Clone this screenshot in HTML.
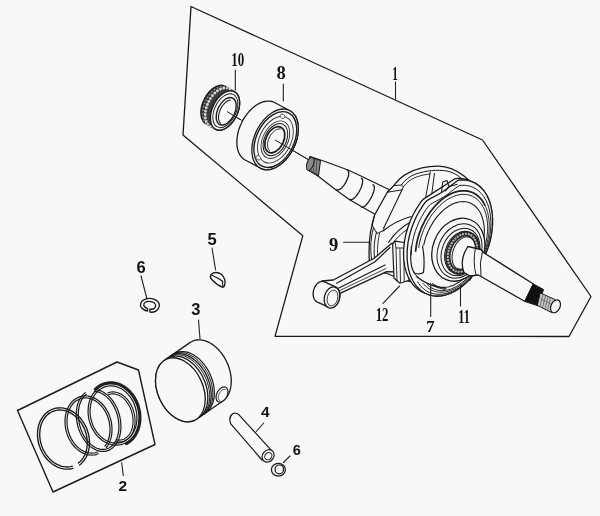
<!DOCTYPE html>
<html><head><meta charset="utf-8"><style>
html,body{margin:0;padding:0;background:#f8f8f8;}
svg{display:block;filter:grayscale(1) blur(0.3px);}
.n{font-family:"Liberation Serif",serif;font-weight:bold;fill:#111;}
.s{font-family:"Liberation Sans",sans-serif;font-weight:bold;fill:#111;}
</style></head><body>
<svg width="600" height="516" viewBox="0 0 600 516">
<rect width="600" height="516" fill="#f8f8f8"/>
<path d="M191,6.5 L482.5,140 L591,296.5 L569,336.5 L275,336.3 L302.8,235.8 L183,135 Z" fill="none" stroke="#1a1a1a" stroke-width="1.3" stroke-linejoin="round" stroke-linecap="round" />
<path d="M17.5,410.5 L117,362 L138.5,370 L155,444.5 L53,492 Z" fill="none" stroke="#1a1a1a" stroke-width="1.4" stroke-linejoin="round" stroke-linecap="round" />
<line x1="226.0" y1="111.0" x2="309.0" y2="160.0" stroke="#222" stroke-width="1.0"/>
<path d="M200.9,112.6 L200.9,111.6 L201.0,110.6 L201.1,109.7 L201.2,108.6 L201.4,107.6 L201.6,106.6 L201.9,105.6 L202.2,104.5 L202.5,103.5 L202.9,102.5 L203.3,101.5 L203.7,100.5 L204.2,99.5 L204.7,98.5 L205.2,97.5 L205.8,96.6 L206.3,95.7 L206.9,94.8 L207.6,93.9 L208.2,93.1 L208.9,92.3 L209.6,91.5 L210.3,90.8 L211.0,90.1 L211.7,89.4 L212.5,88.8 L213.2,88.3 L214.0,87.7 L214.8,87.3 L215.5,86.9 L216.3,86.5 L217.1,86.2 L217.8,85.9 L218.6,85.7 L219.3,85.5 L220.0,85.4 L220.8,85.3 L221.5,85.3 L222.2,85.4 L222.8,85.5 L223.5,85.7 L224.1,85.9 L224.7,86.1 L225.3,86.4 L234.8,91.9 L235.3,92.3 L235.9,92.7 L236.4,93.2 L236.8,93.7 L237.3,94.3 L237.7,94.9 L238.0,95.5 L238.3,96.2 L238.6,96.9 L238.9,97.7 L239.1,98.5 L239.3,99.3 L239.4,100.2 L239.5,101.1 L239.6,102.0 L239.6,102.9 L239.6,103.9 L239.5,104.9 L239.4,105.8 L239.3,106.9 L239.1,107.9 L238.9,108.9 L238.6,109.9 L238.3,111.0 L238.0,112.0 L237.6,113.0 L237.2,114.0 L236.8,115.0 L236.3,116.0 L235.8,117.0 L235.3,118.0 L234.7,118.9 L234.2,119.8 L233.6,120.7 L232.9,121.6 L232.3,122.4 L231.6,123.2 L230.9,124.0 L230.2,124.7 L229.5,125.4 L228.8,126.1 L228.0,126.7 L227.3,127.2 L226.5,127.8 L225.7,128.2 L225.0,128.6 L224.2,129.0 L223.4,129.3 L222.7,129.6 L221.9,129.8 L221.2,130.0 L220.5,130.1 L219.7,130.2 L219.0,130.2 L218.3,130.1 L217.7,130.0 L217.0,129.8 L216.4,129.6 L215.8,129.4 L215.2,129.1 L205.7,123.6 L205.2,123.2 L204.6,122.8 L204.1,122.3 L203.7,121.8 L203.2,121.2 L202.8,120.6 L202.5,120.0 L202.2,119.3 L201.9,118.6 L201.6,117.8 L201.4,117.0 L201.2,116.2 L201.1,115.3 L201.0,114.4 L200.9,113.5Z" fill="#3c3c3c" stroke="#1a1a1a" stroke-width="1.4" stroke-linejoin="round"/>
<ellipse cx="220.0" cy="107.6" rx="12.8" ry="21.2" transform="rotate(26 220.0 107.6)" fill="none" stroke="#d8d8d8" stroke-width="2.9" stroke-dasharray="0.01 3.4" stroke-linecap="round"/>
<ellipse cx="217.0" cy="105.9" rx="12.4" ry="20.8" transform="rotate(26 217.0 105.9)" fill="none" stroke="#9a9a9a" stroke-width="1.6" stroke-dasharray="0.01 3.4" stroke-dashoffset="1.7" stroke-linecap="round"/>
<ellipse cx="225.0" cy="110.5" rx="12.6" ry="21.0" transform="rotate(26 225.0 110.5)" fill="#f8f8f8" stroke="#1a1a1a" stroke-width="1.4" />
<ellipse cx="225.3" cy="110.7" rx="10.7" ry="18.1" transform="rotate(26 225.3 110.7)" fill="none" stroke="#1a1a1a" stroke-width="0.9" />
<ellipse cx="226.2" cy="111.3" rx="8.6" ry="14.7" transform="rotate(26 226.2 111.3)" fill="#f8f8f8" stroke="#1a1a1a" stroke-width="1.4" />
<path d="M220.4,123.1 L220.1,122.7 L219.8,122.3 L219.5,121.8 L219.3,121.4 L219.0,120.8 L218.9,120.2 L218.7,119.6 L218.6,119.0 L218.5,118.3 L218.5,117.6 L218.5,116.9 L218.5,116.2 L218.6,115.4 L218.7,114.7 L218.9,113.9 L219.1,113.1 L219.3,112.3 L219.6,111.5 L219.8,110.7 L220.2,109.9 L220.5,109.2 L220.9,108.4 L221.3,107.6 L221.7,106.9 L222.2,106.2 L222.7,105.5 L223.1,104.9 L223.7,104.3 L224.2,103.7 L224.7,103.1 L225.3,102.6 L225.8,102.1 L226.4,101.7 L227.0,101.3 L227.5,101.0 L228.1,100.7 L228.7,100.4 L229.2,100.2 L229.8,100.1 L230.3,100.0" fill="none" stroke="#1a1a1a" stroke-width="1.1" stroke-linecap="round" />
<line x1="227.0" y1="111.5" x2="240.0" y2="119.5" stroke="#222" stroke-width="1.0"/>
<path d="M236.9,142.6 L236.9,141.1 L237.0,139.6 L237.1,138.0 L237.3,136.5 L237.6,134.9 L237.9,133.3 L238.3,131.7 L238.7,130.1 L239.2,128.5 L239.8,127.0 L240.4,125.4 L241.1,123.9 L241.8,122.3 L242.6,120.8 L243.4,119.4 L244.3,117.9 L245.2,116.5 L246.2,115.2 L247.2,113.8 L248.2,112.6 L249.2,111.3 L250.3,110.2 L251.5,109.1 L252.6,108.0 L253.8,107.1 L254.9,106.1 L256.1,105.3 L257.3,104.5 L258.5,103.8 L259.8,103.2 L261.0,102.7 L262.2,102.2 L263.4,101.8 L264.6,101.5 L265.8,101.3 L267.0,101.1 L268.1,101.1 L269.2,101.1 L270.3,101.2 L271.4,101.4 L272.5,101.7 L273.5,102.0 L274.5,102.5 L289.5,110.5 L290.4,111.0 L291.3,111.6 L292.1,112.2 L292.9,113.0 L293.7,113.8 L294.4,114.7 L295.1,115.6 L295.7,116.7 L296.2,117.7 L296.7,118.9 L297.1,120.1 L297.5,121.3 L297.8,122.6 L298.0,124.0 L298.2,125.4 L298.3,126.8 L298.3,128.2 L298.3,129.7 L298.2,131.2 L298.1,132.8 L297.9,134.3 L297.6,135.9 L297.3,137.5 L296.9,139.1 L296.5,140.7 L296.0,142.3 L295.4,143.8 L294.8,145.4 L294.1,146.9 L293.4,148.5 L292.6,150.0 L291.8,151.4 L290.9,152.9 L290.0,154.3 L289.0,155.6 L288.0,157.0 L287.0,158.2 L286.0,159.5 L284.9,160.6 L283.7,161.7 L282.6,162.8 L281.4,163.7 L280.3,164.7 L279.1,165.5 L277.9,166.3 L276.7,167.0 L275.4,167.6 L274.2,168.1 L273.0,168.6 L271.8,169.0 L270.6,169.3 L269.4,169.5 L268.2,169.7 L267.1,169.7 L266.0,169.7 L264.9,169.6 L263.8,169.4 L262.7,169.1 L261.7,168.8 L260.7,168.3 L245.7,160.3 L244.8,159.8 L243.9,159.2 L243.1,158.6 L242.3,157.8 L241.5,157.0 L240.8,156.1 L240.1,155.2 L239.5,154.1 L239.0,153.1 L238.5,151.9 L238.1,150.7 L237.7,149.5 L237.4,148.2 L237.2,146.8 L237.0,145.4 L236.9,144.0Z" fill="#f8f8f8" stroke="#1a1a1a" stroke-width="1.3" stroke-linejoin="round"/>
<ellipse cx="275.1" cy="139.4" rx="20.4" ry="32.3" transform="rotate(26.4 275.1 139.4)" fill="#f8f8f8" stroke="#1a1a1a" stroke-width="1.3" />
<ellipse cx="275.3" cy="139.6" rx="18.8" ry="29.7" transform="rotate(26.4 275.3 139.6)" fill="none" stroke="#1a1a1a" stroke-width="1.4" />
<ellipse cx="275.4" cy="139.7" rx="15.7" ry="24.9" transform="rotate(26.4 275.4 139.7)" fill="none" stroke="#333" stroke-width="0.9" />
<ellipse cx="282.5" cy="116.3" rx="2.6" ry="2.0" transform="rotate(30 282.5 116.3)" fill="#f8f8f8" stroke="#444" stroke-width="0.8" />
<ellipse cx="258.3" cy="157.8" rx="2.6" ry="2.0" transform="rotate(30 258.3 157.8)" fill="#f8f8f8" stroke="#444" stroke-width="0.8" />
<ellipse cx="275.4" cy="139.7" rx="12.6" ry="20.0" transform="rotate(26.4 275.4 139.7)" fill="none" stroke="#333" stroke-width="0.9" />
<ellipse cx="275.4" cy="139.7" rx="10.8" ry="17.1" transform="rotate(26.4 275.4 139.7)" fill="#f8f8f8" stroke="#1a1a1a" stroke-width="1.0" />
<ellipse cx="274.8" cy="139.7" rx="8.8" ry="13.9" transform="rotate(26.4 274.8 139.7)" fill="#f8f8f8" stroke="#1a1a1a" stroke-width="1.7" />
<path d="M269.6,150.7 L269.2,150.3 L268.9,149.8 L268.6,149.4 L268.3,148.8 L268.1,148.3 L267.9,147.7 L267.7,147.1 L267.6,146.4 L267.6,145.7 L267.6,145.0 L267.6,144.2 L267.6,143.5 L267.7,142.7 L267.9,141.9 L268.1,141.1 L268.3,140.3 L268.5,139.5 L268.8,138.7 L269.2,137.9 L269.5,137.1 L269.9,136.4 L270.3,135.6 L270.8,134.9 L271.3,134.2 L271.8,133.6 L272.3,132.9 L272.9,132.4 L273.4,131.8 L274.0,131.3 L274.6,130.8 L275.2,130.4 L275.8,130.0 L276.4,129.7 L276.9,129.5 L277.5,129.2 L278.1,129.1 L278.7,129.0 L279.3,128.9 L279.8,128.9 L280.3,129.0" fill="none" stroke="#1a1a1a" stroke-width="1.0" stroke-linecap="round" />
<line x1="275.0" y1="140.0" x2="309.0" y2="160.0" stroke="#222" stroke-width="1.0"/>
<path d="M310,156.5 L325,161.5 L348,170 L363,177 L392,191 L378,216 L350,200 L336,190 L318,176 L309,170.5 Z" fill="#f8f8f8" stroke="#1a1a1a" stroke-width="1.2" stroke-linejoin="round" stroke-linecap="round" />
<path d="M309.5,157 L320.5,160.5 L318.5,175.5 L309,170.5 Z" fill="#8a8a8a" stroke="#1a1a1a" stroke-width="1.1" stroke-linejoin="round" stroke-linecap="round" />
<path d="M312,158 L310.8,171.5 M314.5,158.8 L313.2,172.8 M317,159.6 L315.8,174" fill="none" stroke="#444" stroke-width="0.8" stroke-linejoin="round" stroke-linecap="round" />
<ellipse cx="310.2" cy="163.8" rx="3.2" ry="6.8" transform="rotate(20 310.2 163.8)" fill="#8a8a8a" stroke="#1a1a1a" stroke-width="1.1" />
<path d="M347.3,170.2 L347.6,170.3 L347.9,170.5 L348.2,170.7 L348.4,171.0 L348.5,171.4 L348.6,171.8 L348.7,172.3 L348.8,172.9 L348.7,173.5 L348.7,174.1 L348.6,174.8 L348.5,175.5 L348.3,176.2 L348.1,177.0 L347.8,177.8 L347.5,178.6 L347.2,179.4 L346.8,180.2 L346.4,181.1 L346.0,181.9 L345.6,182.7 L345.1,183.5 L344.7,184.2 L344.2,184.9 L343.7,185.6 L343.1,186.3 L342.6,186.9 L342.1,187.5 L341.6,188.0 L341.1,188.4 L340.6,188.8 L340.1,189.2 L339.6,189.4 L339.2,189.7 L338.7,189.8 L338.3,189.9 L338.0,189.9 L337.6,189.8 L337.3,189.7 L337.0,189.5" fill="none" stroke="#1a1a1a" stroke-width="1.3" stroke-linecap="round" />
<path d="M361.3,178.3 L361.6,178.4 L361.9,178.6 L362.1,178.8 L362.3,179.2 L362.5,179.6 L362.6,180.0 L362.6,180.6 L362.6,181.1 L362.6,181.8 L362.5,182.5 L362.4,183.2 L362.3,184.0 L362.0,184.8 L361.8,185.6 L361.5,186.5 L361.2,187.3 L360.8,188.2 L360.4,189.1 L360.0,190.0 L359.5,190.9 L359.1,191.7 L358.6,192.6 L358.0,193.4 L357.5,194.2 L357.0,195.0 L356.4,195.7 L355.9,196.4 L355.3,197.0 L354.8,197.6 L354.2,198.1 L353.7,198.5 L353.2,198.9 L352.7,199.2 L352.2,199.5 L351.8,199.6 L351.4,199.7 L351.0,199.8 L350.7,199.7 L350.4,199.6 L350.1,199.4" fill="none" stroke="#1a1a1a" stroke-width="1.3" stroke-linecap="round" />
<path d="M373.0,184.8 L373.4,185.0 L373.6,185.1 L373.9,185.4 L374.0,185.7 L374.2,186.2 L374.3,186.6 L374.3,187.2 L374.3,187.8 L374.3,188.4 L374.2,189.1 L374.1,189.9 L373.9,190.7 L373.7,191.5 L373.4,192.4 L373.1,193.3 L372.7,194.2 L372.4,195.1 L372.0,196.0 L371.5,197.0 L371.0,197.9 L370.5,198.8 L370.0,199.7 L369.5,200.5 L368.9,201.4 L368.4,202.2 L367.8,202.9 L367.2,203.6 L366.7,204.3 L366.1,204.9 L365.6,205.4 L365.0,205.9 L364.5,206.3 L364.0,206.6 L363.5,206.9 L363.1,207.1 L362.7,207.2 L362.3,207.2 L361.9,207.2 L361.6,207.0 L361.3,206.8" fill="none" stroke="#1a1a1a" stroke-width="1.3" stroke-linecap="round" />
<path d="M371,272 C368.5,262 368.5,245 370.5,232 L374.6,215 L387.4,192 L393.8,185.6 C398,180 403,175.5 407.6,173.3 C417,168.5 428,166 438.7,166.2 C447,166.3 456,170 464,176 C472,182 478,190 482,200 L485,235 L470,280 L425,285 L400,279 L386,273 L372,273 Z" fill="#f8f8f8" stroke="#1a1a1a" stroke-width="1.3" stroke-linejoin="round" stroke-linecap="round" />
<path d="M401.2,185 C405,180 410,176 416,173.9 C426,170.5 437,169.5 447,171 C452,172 457,174.5 461,178" fill="none" stroke="#1a1a1a" stroke-width="1.0" stroke-linejoin="round" stroke-linecap="round" />
<path d="M403.4,186.7 C407,182 411,179 416.5,177 C422,175 426,174.5 430,174" fill="none" stroke="#1a1a1a" stroke-width="0.9" stroke-linejoin="round" stroke-linecap="round" />
<path d="M402.2,189.5 L383.6,228.2" fill="none" stroke="#1a1a1a" stroke-width="1.1" stroke-linejoin="round" stroke-linecap="round" />
<path d="M387.4,192 L393.8,185.6 L401.2,185 L403.4,186.7 L402.2,189.5 Z" fill="none" stroke="#1a1a1a" stroke-width="1.0" stroke-linejoin="round" stroke-linecap="round" />
<path d="M374.6,215 L371.8,224.7 L377,233.5 L384.4,230 L383.6,228.2" fill="none" stroke="#1a1a1a" stroke-width="1.0" stroke-linejoin="round" stroke-linecap="round" />
<path d="M373.5,228 C370,240 370,252 372.5,265" fill="none" stroke="#1a1a1a" stroke-width="1.0" stroke-linejoin="round" stroke-linecap="round" />
<path d="M376.5,232 C373.5,243 373.5,254 375.5,266" fill="none" stroke="#1a1a1a" stroke-width="1.0" stroke-linejoin="round" stroke-linecap="round" />
<path d="M379.5,233.5 C377,244 377,255 378.5,266" fill="none" stroke="#1a1a1a" stroke-width="0.9" stroke-linejoin="round" stroke-linecap="round" />
<path d="M430.3,171.9 L424.7,202.8 M434.5,173.3 L431.7,194.4" fill="none" stroke="#1a1a1a" stroke-width="1.0" stroke-linejoin="round" stroke-linecap="round" />
<path d="M383,231 C391,224.5 400,219.5 411,216.5" fill="none" stroke="#1a1a1a" stroke-width="1.1" stroke-linejoin="round" stroke-linecap="round" />
<path d="M388.5,242.5 C394,234 401,227 411.5,221.5" fill="none" stroke="#1a1a1a" stroke-width="1.1" stroke-linejoin="round" stroke-linecap="round" />
<path d="M391.5,245 C397,237.5 403,231.5 412,226.5" fill="none" stroke="#1a1a1a" stroke-width="1.0" stroke-linejoin="round" stroke-linecap="round" />
<path d="M322,281 L333.3,280 L374.2,258.3 L391.7,243.3 L398,244 L400,250 L399,272 L386.7,271.7 L340,293.3 L336,305 Z" fill="#f8f8f8" stroke="#1a1a1a" stroke-width="1.3" stroke-linejoin="round" stroke-linecap="round" />
<path d="M336.7,283.3 L375,261.7 L390,247.5 M338.3,288.3 L385,265" fill="none" stroke="#1a1a1a" stroke-width="1.2" stroke-linejoin="round" stroke-linecap="round" />
<path d="M339.2,290.8 L386,268.5" fill="none" stroke="#333" stroke-width="0.9" stroke-linejoin="round" stroke-linecap="round" />
<path d="M392.6,244 L395,241.2 L407.6,243 L408.6,248 L409,280.3 L400,283.2 L394,278 Z" fill="#f8f8f8" stroke="#1a1a1a" stroke-width="1.2" stroke-linejoin="round" stroke-linecap="round" />
<path d="M395,241.2 L396,248 L407.6,248 M396,248 L397,281 M399.9,249 L400.5,282 M403.8,249 L404.2,281.5" fill="none" stroke="#1a1a1a" stroke-width="0.9" stroke-linejoin="round" stroke-linecap="round" />
<path d="M313.1,293.9 L313.2,293.4 L313.2,292.8 L313.2,292.2 L313.3,291.7 L313.4,291.1 L313.5,290.6 L313.7,290.0 L313.8,289.5 L314.0,289.0 L314.2,288.4 L314.4,287.9 L314.6,287.4 L314.9,286.9 L315.1,286.4 L315.4,286.0 L315.7,285.5 L316.0,285.1 L316.4,284.7 L316.7,284.3 L317.1,283.9 L317.4,283.6 L317.8,283.2 L318.2,282.9 L318.6,282.7 L318.9,282.4 L319.3,282.2 L319.8,282.0 L320.2,281.8 L320.6,281.7 L321.0,281.6 L321.4,281.5 L321.8,281.4 L322.2,281.4 L322.6,281.4 L323.0,281.4 L323.4,281.5 L323.8,281.6 L324.2,281.7 L324.5,281.8 L335.5,286.8 L335.9,287.0 L336.3,287.2 L336.6,287.4 L336.9,287.7 L337.2,288.0 L337.5,288.3 L337.8,288.6 L338.1,288.9 L338.3,289.3 L338.6,289.7 L338.8,290.1 L339.0,290.6 L339.2,291.0 L339.3,291.5 L339.5,292.0 L339.6,292.5 L339.7,293.0 L339.8,293.5 L339.8,294.0 L339.8,294.6 L339.9,295.1 L339.8,295.6 L339.8,296.2 L339.8,296.8 L339.7,297.3 L339.6,297.9 L339.5,298.4 L339.3,299.0 L339.2,299.5 L339.0,300.0 L338.8,300.6 L338.6,301.1 L338.4,301.6 L338.1,302.1 L337.9,302.6 L337.6,303.0 L337.3,303.5 L337.0,303.9 L336.6,304.3 L336.3,304.7 L335.9,305.1 L335.6,305.4 L335.2,305.8 L334.8,306.1 L334.4,306.3 L334.1,306.6 L333.7,306.8 L333.2,307.0 L332.8,307.2 L332.4,307.3 L332.0,307.4 L331.6,307.5 L331.2,307.6 L330.8,307.6 L330.4,307.6 L330.0,307.6 L329.6,307.5 L329.2,307.4 L328.8,307.3 L328.5,307.2 L317.5,302.2 L317.1,302.0 L316.7,301.8 L316.4,301.6 L316.1,301.3 L315.8,301.0 L315.5,300.7 L315.2,300.4 L314.9,300.1 L314.7,299.7 L314.4,299.3 L314.2,298.9 L314.0,298.4 L313.8,298.0 L313.7,297.5 L313.5,297.0 L313.4,296.5 L313.3,296.0 L313.2,295.5 L313.2,295.0 L313.2,294.4Z" fill="#f8f8f8" stroke="#1a1a1a" stroke-width="1.3" stroke-linejoin="round"/>
<ellipse cx="332.0" cy="297.5" rx="7.6" ry="10.8" transform="rotate(15 332.0 297.5)" fill="#f8f8f8" stroke="#1a1a1a" stroke-width="1.3" />
<ellipse cx="332.5" cy="298.0" rx="5.2" ry="8.0" transform="rotate(15 332.5 298.0)" fill="none" stroke="#1a1a1a" stroke-width="0.8" />
<path d="M403.6,254.0 L403.6,252.1 L403.6,250.1 L403.8,248.1 L403.9,246.1 L404.2,244.1 L404.4,242.1 L404.7,240.1 L405.1,238.1 L405.5,236.0 L406.0,234.0 L406.5,232.0 L407.1,230.0 L407.7,228.0 L408.4,226.0 L409.1,224.0 L409.9,222.0 L410.7,220.1 L411.5,218.1 L412.4,216.2 L413.3,214.3 L414.3,212.5 L415.3,210.6 L416.4,208.8 L417.5,207.1 L418.6,205.3 L419.7,203.7 L420.9,202.0 L422.1,200.4 L423.5,199.1 L454.9,178.7 L456.3,178.6 L457.8,178.5 L459.2,178.5 L460.6,178.5 L462.0,178.6 L463.4,178.8 L464.7,179.1 L466.1,179.4 L467.4,179.8 L468.7,180.3 L472.2,181.8 L473.4,182.3 L474.7,182.9 L475.9,183.6 L477.0,184.4 L478.2,185.2 L479.3,186.0 L480.3,187.0 L481.3,188.0 L482.3,189.0 L483.3,190.1 L484.2,191.3 L485.0,192.5 L485.9,193.8 L486.7,195.2 L487.4,196.6 L488.1,198.0 L488.7,199.5 L489.3,201.0 L489.9,202.6 L490.3,204.3 L490.8,205.9 L491.2,207.6 L491.5,209.4 L491.8,211.2 L492.1,213.0 L492.3,214.8 L492.4,216.7 L492.5,218.6 L492.5,220.5 L492.5,222.4 L492.5,224.4 L492.3,226.4 L492.2,228.4 L491.9,230.4 L491.7,232.4 L491.4,234.4 L491.0,236.4 L490.6,238.5 L490.1,240.5 L489.6,242.5 L489.0,244.5 L488.4,246.5 L487.7,248.5 L487.0,250.5 L486.2,252.5 L485.4,254.4 L484.6,256.4 L483.7,258.3 L482.8,260.2 L481.8,262.0 L480.8,263.9 L479.7,265.7 L478.6,267.4 L477.5,269.2 L476.4,270.8 L475.2,272.5 L474.0,274.1 L472.7,275.7 L471.5,277.2 L470.2,278.7 L468.8,280.1 L467.5,281.4 L466.1,282.8 L464.7,284.0 L463.3,285.2 L461.9,286.4 L460.5,287.5 L459.0,288.5 L457.5,289.5 L456.1,290.4 L454.6,291.2 L453.1,292.0 L451.6,292.7 L450.1,293.4 L448.6,293.9 L447.1,294.4 L445.7,294.9 L444.2,295.2 L442.7,295.5 L441.2,295.8 L439.8,295.9 L438.3,296.0 L436.9,296.0 L435.5,296.0 L434.1,295.9 L432.7,295.7 L431.4,295.4 L430.0,295.1 L428.7,294.7 L427.4,294.2 L423.9,292.7 L422.7,292.2 L421.4,291.6 L420.2,290.9 L419.1,290.1 L417.9,289.3 L416.8,288.5 L415.8,287.5 L414.8,286.5 L413.8,285.5 L412.8,284.4 L411.9,283.2 L411.1,282.0 L410.2,280.7 L409.4,279.3 L408.7,277.9 L408.0,276.5 L407.4,275.0 L406.8,273.5 L406.2,271.9 L405.8,270.2 L405.3,268.6 L404.9,266.9 L404.6,265.1 L404.3,263.3 L404.0,261.5 L403.8,259.7 L403.7,257.8 L403.6,255.9Z" fill="#f8f8f8" stroke="#1a1a1a" stroke-width="1.3" stroke-linejoin="round"/>
<path d="M486.2,252.5 L485.4,254.4 L484.6,256.4 L483.7,258.3 L482.8,260.2 L481.8,262.0 L480.8,263.9 L479.7,265.7 L478.6,267.4 L477.5,269.2 L476.4,270.8 L475.2,272.5 L474.0,274.1 L472.7,275.7 L471.5,277.2 L470.2,278.7 L468.8,280.1 L467.5,281.4 L466.1,282.8 L464.7,284.0 L463.3,285.2 L461.9,286.4 L460.5,287.5 L459.0,288.5 L457.5,289.5 L456.1,290.4 L454.6,291.2 L453.1,292.0 L451.6,292.7 L450.1,293.4 L448.6,293.9 L447.1,294.4 L445.7,294.9 L444.2,295.2 L442.7,295.5 L441.2,295.8 L439.8,295.9 L438.3,296.0 L436.9,296.0 L435.5,296.0 L434.1,295.9 L432.7,295.7 L431.4,295.4 L430.0,295.1 L428.7,294.7 L427.4,294.2 L426.2,293.7 L424.9,293.1 L423.7,292.4 L422.6,291.6 L421.4,290.8 L420.3,290.0 L419.3,289.0 L418.3,288.0 L417.3,287.0 L416.3,285.9 L415.4,284.7 L414.6,283.5 L413.7,282.2 L412.9,280.8 L412.2,279.4 L411.5,278.0 L410.9,276.5 L410.3,275.0 L409.7,273.4 L409.3,271.7 L408.8,270.1 L408.4,268.4 L408.1,266.6 L407.8,264.8 L407.5,263.0 L407.3,261.2 L407.2,259.3 L407.1,257.4 L407.1,255.5 L407.1,253.6 L407.1,251.6 L407.3,249.6 L407.4,247.6 L407.7,245.6 L407.9,243.6 L408.2,241.6 L408.6,239.6 L409.0,237.5 L409.5,235.5 L410.0,233.5 L410.6,231.5 L411.2,229.5 L411.9,227.5 L412.6,225.5 L413.4,223.5 L414.2,221.6 L415.0,219.6 L415.9,217.7 L416.8,215.8 L417.8,214.0 L418.8,212.1 L419.9,210.3 L421.0,208.6 L422.1,206.8 L423.2,205.2 L424.4,203.5 L425.6,201.9 L427.0,200.6 L428.6,199.6 L430.1,198.7 L431.7,197.9 L433.2,197.1 L434.6,196.3 L436.0,195.6 L437.4,194.9 L438.8,194.1 L440.2,193.3 L441.5,192.5 L442.8,191.7 L444.1,190.8 L445.5,189.8 L446.8,188.9 L448.1,187.8 L449.5,186.8 L450.9,185.7 L452.3,184.6 L453.8,183.4 L455.3,182.3 L456.8,181.3 L458.4,180.2 L459.8,180.1 L461.3,180.0 L462.7,180.0 L464.1,180.0 L465.5,180.1 L466.9,180.3 L468.2,180.6 L469.6,180.9 L470.9,181.3 L472.2,181.8 L473.4,182.3 L474.7,182.9 L475.9,183.6 L477.0,184.4 L478.2,185.2 L479.3,186.0 L480.3,187.0 L481.3,188.0 L482.3,189.0 L483.3,190.1 L484.2,191.3 L485.0,192.5 L485.9,193.8 L486.7,195.2 L487.4,196.6 L488.1,198.0 L488.7,199.5 L489.3,201.0 L489.9,202.6 L490.3,204.3 L490.8,205.9 L491.2,207.6 L491.5,209.4 L491.8,211.2 L492.1,213.0 L492.3,214.8 L492.4,216.7 L492.5,218.6 L492.5,220.5 L492.5,222.4 L492.5,224.4 L492.3,226.4 L492.2,228.4 L491.9,230.4 L491.7,232.4 L491.4,234.4 L491.0,236.4 L490.6,238.5 L490.1,240.5 L489.6,242.5 L489.0,244.5 L488.4,246.5 L487.7,248.5 L487.0,250.5 L486.2,252.5Z" fill="#f8f8f8" stroke="#1a1a1a" stroke-width="1.3" stroke-linecap="round" stroke-linejoin="round" />
<path d="M411.2,254.5 L411.3,252.0 L411.5,249.5 L411.7,247.0 L412.1,244.4 L412.6,241.8 L413.1,239.3 L413.7,236.7 L414.4,234.1 L415.2,231.6 L416.1,229.0 L417.1,226.5 L418.1,224.0 L419.2,221.6 L420.3,219.2 L421.6,216.8 L422.9,214.5 L424.3,212.2 L425.7,210.1 L427.2,207.9 L428.7,205.9 L430.6,204.4 L432.5,203.2 L434.4,202.1 L436.3,201.1 L438.1,200.1 L439.9,199.2 L441.6,198.2 L443.3,197.2 L445.0,196.1 L446.7,194.9 L448.3,193.7 L450.0,192.4 L451.8,191.0 L453.6,189.6 L455.4,188.2 L457.4,186.8 L459.3,185.5 L461.1,185.3 L463.0,185.3 L464.7,185.3 L466.5,185.5 L468.2,185.8 L469.9,186.2 L471.5,186.8 L473.1,187.4 L474.7,188.2 L476.2,189.1 L477.6,190.1 L479.0,191.2 L480.3,192.4 L481.5,193.8 L482.7,195.2 L483.8,196.7 L484.8,198.4 L485.8,200.1 L486.7,201.9 L487.5,203.8 L488.2,205.8 L488.8,207.8 L489.4,209.9 L489.9,212.1 L490.2,214.4 L490.5,216.7 L490.7,219.1 L490.8,221.5 L490.9,223.9 L490.8,226.4 L490.7,228.9 L490.4,231.4 L490.1,234.0 L489.7,236.6 L489.2,239.1 L488.6,241.7 L487.9,244.3 L487.1,246.9 L486.3,249.4 L485.4,251.9 L484.4,254.4 L483.3,256.9 L482.2,259.3 L481.0,261.7 L479.7,264.0 L478.4,266.3 L477.0,268.5 L475.5,270.7 L474.0,272.8 L472.4,274.8 L470.8,276.7 L469.2,278.6 L467.5,280.4 L465.7,282.0 L464.0,283.6 L462.2,285.1 L460.4,286.5 L458.5,287.8 L456.7,288.9 L454.8,290.0 L452.9,291.0 L451.0,291.8 L449.1,292.5 L447.3,293.1 L445.4,293.6 L443.5,294.0 L441.7,294.2 L439.9,294.3 L438.1,294.3 L436.3,294.2 L434.6,293.9 L432.9,293.6 L431.2,293.1 L429.6,292.5 L428.0,291.8 L426.5,290.9 L425.1,290.0 L423.7,288.9 L422.3,287.7 L421.0,286.5 L419.8,285.1 L418.7,283.6 L417.6,282.0" fill="none" stroke="#1a1a1a" stroke-width="1.0" stroke-linecap="round" stroke-linejoin="round" />
<path d="M415.6,251.0 L415.8,249.6 L416.0,248.2 L416.1,246.8 L416.4,245.3 L416.6,243.9 L416.9,242.5 L417.2,241.1 L417.6,239.6 L417.9,238.2 L418.3,236.8 L418.7,235.4 L419.2,234.0 L419.7,232.5 L420.2,231.1 L420.7,229.8 L421.2,228.4 L421.8,227.0 L422.4,225.6 L423.0,224.3 L423.7,223.0 L424.4,221.6 L425.0,220.3 L425.8,219.0 L426.5,217.8 L427.2,216.5 L428.0,215.3 L428.8,214.1 L429.6,212.9 L430.4,211.7 L431.3,210.6 L432.2,209.5 L433.0,208.4 L433.9,207.3 L434.8,206.3 L435.8,205.2 L436.7,204.3 L437.6,203.3 L438.6,202.4 L439.6,201.5 L440.5,200.6 L441.5,199.8 L442.5,199.0 L443.5,198.2 L444.6,197.5 L445.6,196.8 L446.6,196.2 L447.6,195.5 L448.7,194.9 L449.7,194.4 L450.7,193.9 L451.8,193.4 L452.8,193.0 L453.8,192.6 L454.9,192.2 L455.9,191.9 L456.9,191.6 L458.0,191.4 L459.0,191.2 L460.0,191.0 L461.0,190.9 L462.0,190.8 L463.0,190.8 L464.0,190.8 L465.0,190.8 L466.0,190.9 L466.9,191.0 L467.9,191.2 L468.8,191.4 L469.7,191.6 L470.6,191.9 L471.5,192.2 L472.4,192.5 L473.3,192.9 L474.1,193.4 L475.0,193.8 L475.8,194.3 L476.6,194.9 L477.3,195.5 L478.1,196.1 L478.8,196.7 L479.5,197.4 L480.2,198.2 L480.9,198.9 L481.5,199.7 L482.2,200.5 L482.8,201.4 L483.3,202.3 L483.9,203.2 L484.4,204.2 L484.9,205.1" fill="none" stroke="#222" stroke-width="1.8" stroke-linecap="round" stroke-dasharray="1.1 0.7"/>
<path d="M484.9,205.1 L485.5,206.3 L486.0,207.5 L486.5,208.8 L486.9,210.1 L487.3,211.4 L487.7,212.8 L488.0,214.2 L488.3,215.6 L488.6,217.1 L488.8,218.6 L488.9,220.1 L489.1,221.6 L489.2,223.1 L489.2,224.7 L489.2,226.3 L489.2,227.9 L489.1,229.5 L489.0,231.1 L488.9,232.8 L488.7,234.4 L488.5,236.1 L488.2,237.8 L487.9,239.4 L487.6,241.1 L487.2,242.8 L486.8,244.4 L486.3,246.1 L485.8,247.8 L485.3,249.4 L484.7,251.1 L484.1,252.7 L483.5,254.3 L482.8,256.0 L482.1,257.6 L481.4,259.1 L480.6,260.7 L479.8,262.2 L479.0,263.7 L478.1,265.2 L477.2,266.7 L476.3,268.1 L475.4,269.5 L474.4,270.9 L473.4,272.3 L472.4,273.6 L471.4,274.9 L470.3,276.1 L469.3,277.3 L468.2,278.5 L467.1,279.6 L465.9,280.7 L464.8,281.7 L463.6,282.7 L462.5,283.7 L461.3,284.6 L460.1,285.4 L458.9,286.3 L457.7,287.0 L456.5,287.7 L455.3,288.4 L454.1,289.0 L452.9,289.6 L451.7,290.1 L450.4,290.5 L449.2,290.9 L448.0,291.3 L446.8,291.6 L445.6,291.8 L444.4,292.0 L443.2,292.1 L442.0,292.2 L440.9,292.2 L439.7,292.2 L438.6,292.1 L437.5,292.0 L436.4,291.8 L435.3,291.5 L434.2,291.2 L433.2,290.9 L432.1,290.4 L431.1,290.0 L430.1,289.4 L429.2,288.9 L428.2,288.2 L427.3,287.6 L426.4,286.8 L425.6,286.1 L424.8,285.2 L424.0,284.4 L423.2,283.5" fill="none" stroke="#222" stroke-width="1.0" stroke-linecap="round" />
<path d="M418.7,247.4 L419.1,245.3 L419.5,243.2 L420.0,241.0 L420.6,238.9 L421.2,236.8 L421.9,234.7 L422.6,232.6 L423.4,230.5 L424.3,228.4 L425.2,226.4 L426.2,224.4 L427.2,222.5 L428.2,220.5 L429.4,218.7 L430.5,216.8 L431.7,215.0 L433.0,213.3 L434.3,211.7 L435.6,210.0 L437.0,208.5 L438.4,207.0 L439.8,205.6 L441.2,204.3 L442.7,203.0 L444.2,201.8 L445.7,200.7 L447.2,199.7 L448.8,198.8 L450.3,197.9 L451.8,197.2 L453.4,196.5 L454.9,195.9 L456.5,195.4 L458.0,195.0 L459.5,194.7 L461.0,194.5 L462.5,194.4 L464.0,194.4 L465.5,194.5 L466.9,194.6 L468.3,194.9 L469.7,195.3 L471.0,195.7 L472.3,196.2 L473.6,196.9 L474.8,197.6 L476.0,198.4 L477.1,199.3 L478.2,200.3 L479.2,201.4 L480.2,202.5 L481.1,203.7 L482.0,205.0 L482.8,206.4 L483.6,207.8 L484.3,209.4 L484.9,210.9 L485.5,212.6 L486.0,214.3 L486.4,216.0 L486.8,217.8 L487.1,219.7 L487.3,221.6 L487.5,223.5 L487.6,225.5 L487.7,227.5 L487.6,229.6 L487.5,231.6 L487.4,233.7 L487.1,235.8 L486.8,238.0 L486.4,240.1 L486.0,242.2 L485.5,244.4 L484.9,246.5 L484.3,248.6 L483.6,250.7 L482.9,252.8 L482.0,254.9 L481.2,256.9 L480.2,259.0 L479.3,260.9 L478.2,262.9 L477.2,264.8 L476.0,266.7 L474.8,268.5 L473.6,270.3 L472.4,272.0 L471.1,273.6 L469.7,275.2 L468.4,276.8 L467.0,278.2 L465.5,279.6 L464.1,280.9 L462.6,282.2 L461.1,283.4 L459.6,284.4 L458.1,285.4 L456.6,286.4 L455.0,287.2 L453.5,287.9 L451.9,288.6 L450.4,289.2 L448.8,289.6 L447.3,290.0 L445.8,290.3 L444.3,290.5 L442.8,290.6 L441.3,290.6 L439.9,290.5 L438.5,290.3 L437.1,290.0 L435.7,289.7 L434.4,289.2 L433.1,288.6 L431.8,288.0 L430.6,287.3 L429.4,286.4 L428.3,285.5 L427.2,284.5" fill="none" stroke="#1a1a1a" stroke-width="1.0" stroke-linecap="round" />
<path d="M423.7,245.2 L424.1,243.3 L424.6,241.5 L425.1,239.7 L425.7,237.9 L426.3,236.0 L427.0,234.2 L427.7,232.5 L428.5,230.7 L429.3,229.0 L430.2,227.3 L431.1,225.6 L432.1,224.0 L433.0,222.4 L434.1,220.8 L435.1,219.3 L436.2,217.9 L437.4,216.4 L438.5,215.1 L439.7,213.8 L440.9,212.5 L442.1,211.3 L443.4,210.2 L444.6,209.1 L445.9,208.1 L447.2,207.2 L448.5,206.3 L449.9,205.5 L451.2,204.8 L452.5,204.1 L453.8,203.5 L455.2,203.0 L456.5,202.6 L457.8,202.2 L459.1,202.0 L460.4,201.8 L461.7,201.7 L463.0,201.6 L464.3,201.7 L465.5,201.8 L466.7,202.0 L467.9,202.2 L469.0,202.6 L470.2,203.0 L471.3,203.5 L472.3,204.1 L473.4,204.8 L474.4,205.5 L475.3,206.3 L476.2,207.2 L477.1,208.1 L477.9,209.1 L478.7,210.2 L479.5,211.3 L480.2,212.5 L480.8,213.8 L481.4,215.1 L481.9,216.5 L482.4,217.9 L482.8,219.4 L483.2,220.9 L483.5,222.4 L483.8,224.0 L484.0,225.7 L484.2,227.3 L484.3,229.0 L484.3,230.8 L484.3,232.5 L484.2,234.3 L484.1,236.1 L483.9,237.9 L483.7,239.7 L483.4,241.6 L483.0,243.4 L482.6,245.2 L482.1,247.1 L481.6,248.9 L481.0,250.7 L480.4,252.6 L479.8,254.4 L479.0,256.1 L478.3,257.9 L477.5,259.6 L476.6,261.3 L475.7,263.0 L474.8,264.7 L473.8,266.3 L472.8,267.8 L471.7,269.4 L470.6,270.8 L469.5,272.3 L468.3,273.6 L467.2,275.0 L466.0,276.2 L464.7,277.4 L463.5,278.6 L462.2,279.7 L460.9,280.7 L459.7,281.6 L458.3,282.5 L457.0,283.3 L455.7,284.1 L454.4,284.8 L453.0,285.4 L451.7,285.9 L450.4,286.3 L449.1,286.7 L447.8,287.0 L446.4,287.2 L445.2,287.3 L443.9,287.4 L442.6,287.4 L441.4,287.3 L440.2,287.1 L439.0,286.8 L437.8,286.5 L436.7,286.1 L435.6,285.6 L434.5,285.0 L433.4,284.4 L432.4,283.7" fill="none" stroke="#1a1a1a" stroke-width="1.1" stroke-linecap="round" />
<path d="M441.5,192.5 L442.7,182 L447,180.5 L449,186.5 L445.5,191 M449,186.5 L457,184.5" fill="none" stroke="#1a1a1a" stroke-width="1.1" stroke-linejoin="round" stroke-linecap="round" />
<path d="M411.5,246 C410,258 410.5,268 414.5,273 C418,274.5 421,274 423.5,272.5 C424.5,264 424.2,255 422.5,246" fill="none" stroke="#1a1a1a" stroke-width="1.2" stroke-linejoin="round" stroke-linecap="round" />
<path d="M413.7,272.7 C420,281 432,286.5 446,288.5 M416,276.5 C424,283 434,287 445,289.5" fill="none" stroke="#1a1a1a" stroke-width="1.0" stroke-linejoin="round" stroke-linecap="round" />
<ellipse cx="458.3" cy="249.7" rx="25.5" ry="32.3" transform="rotate(22 458.3 249.7)" fill="#f8f8f8" stroke="#1a1a1a" stroke-width="1.3" />
<ellipse cx="459.5" cy="251.0" rx="21.5" ry="28.0" transform="rotate(22 459.5 251.0)" fill="none" stroke="#1a1a1a" stroke-width="1.0" />
<ellipse cx="460.5" cy="252.0" rx="18.5" ry="24.5" transform="rotate(22 460.5 252.0)" fill="none" stroke="#1a1a1a" stroke-width="1.0" />
<ellipse cx="462.5" cy="252.8" rx="13.9" ry="19.6" transform="rotate(20 462.5 252.8)" fill="none" stroke="#2e2e2e" stroke-width="5.5" />
<ellipse cx="462.5" cy="252.8" rx="13.9" ry="19.6" transform="rotate(20 462.5 252.8)" fill="none" stroke="#b8b8b8" stroke-width="2.2" stroke-dasharray="0.01 2.9" stroke-linecap="round"/>
<ellipse cx="462.0" cy="252.8" rx="16.7" ry="22.0" transform="rotate(20 462.0 252.8)" fill="none" stroke="#1a1a1a" stroke-width="1.0" />
<ellipse cx="463.7" cy="253.0" rx="10.8" ry="16.8" transform="rotate(20 463.7 253.0)" fill="#f8f8f8" stroke="#1a1a1a" stroke-width="1.0" />
<path d="M467.8,246.5 L481,249.5 L483.3,252.5 L533.5,284 L525,301.5 L478.3,275 L470,276 L464,272.6 Q459,260 467.8,246.5 Z" fill="#f8f8f8" stroke="#1a1a1a" stroke-width="1.3" stroke-linejoin="round" stroke-linecap="round" />
<path d="M475.5,248 Q472.5,262 476,274.8" fill="none" stroke="#1a1a1a" stroke-width="1.0" stroke-linejoin="round" stroke-linecap="round" />
<path d="M482.5,251 Q479,263 481,275.5" fill="none" stroke="#1a1a1a" stroke-width="1.0" stroke-linejoin="round" stroke-linecap="round" />
<path d="M533.5,284 L543.5,289.5 L538.5,306 L525,301.5 Z" fill="#111" stroke="#1a1a1a" stroke-width="1.0" stroke-linejoin="round" stroke-linecap="round" />
<path d="M540.5,293 L555,299.5 L551.5,312.5 L537.5,305.5 Z" fill="#c4c4c4" stroke="#1a1a1a" stroke-width="1.0" stroke-linejoin="round" stroke-linecap="round" />
<path d="M543,294.5 L540,306.5 M545.5,295.6 L542.5,307.7 M548,296.7 L545,308.9 M550.5,297.8 L547.5,310.1 M541,299 L553,305" fill="none" stroke="#555" stroke-width="0.7" stroke-linejoin="round" stroke-linecap="round" />
<ellipse cx="555.5" cy="306.3" rx="4.5" ry="6.8" transform="rotate(25 555.5 306.3)" fill="#f4f4f4" stroke="#1a1a1a" stroke-width="1.2" />
<path d="M155.5,381.1 L155.6,379.5 L155.6,377.9 L155.8,376.3 L156.0,374.9 L156.3,373.4 L156.6,372.0 L157.0,370.6 L157.5,369.3 L158.0,368.0 L158.6,366.9 L159.3,365.7 L160.0,364.7 L160.7,363.7 L161.6,362.7 L162.4,361.9 L163.4,361.1 L164.3,360.4 L190.3,342.4 L191.4,341.8 L192.4,341.2 L193.5,340.8 L194.6,340.4 L195.8,340.2 L197.0,340.0 L198.2,339.9 L199.4,339.8 L200.7,339.9 L202.0,340.1 L203.3,340.3 L204.6,340.6 L205.9,341.1 L207.2,341.6 L208.5,342.1 L209.8,342.8 L211.0,343.5 L212.3,344.4 L213.6,345.3 L214.8,346.2 L216.0,347.3 L217.2,348.4 L218.4,349.5 L219.5,350.8 L220.6,352.1 L221.6,353.4 L222.6,354.8 L223.6,356.2 L224.5,357.7 L225.4,359.3 L226.2,360.8 L226.9,362.4 L227.7,364.0 L228.3,365.6 L228.9,367.3 L229.4,368.9 L229.9,370.6 L230.3,372.3 L230.6,374.0 L230.9,375.6 L231.1,377.3 L231.2,378.9 L231.3,380.5 L231.2,382.1 L231.2,383.7 L231.0,385.3 L230.8,386.7 L230.5,388.2 L230.2,389.6 L229.8,391.0 L229.3,392.3 L228.8,393.6 L228.2,394.7 L227.5,395.9 L226.8,396.9 L226.1,397.9 L225.2,398.9 L224.4,399.7 L223.4,400.5 L222.5,401.2 L196.5,419.2 L195.4,419.8 L194.4,420.4 L193.3,420.8 L192.2,421.2 L191.0,421.4 L189.8,421.6 L188.6,421.7 L187.4,421.8 L186.1,421.7 L184.8,421.5 L183.5,421.3 L182.2,421.0 L180.9,420.5 L179.6,420.0 L178.3,419.5 L177.0,418.8 L175.8,418.1 L174.5,417.2 L173.2,416.3 L172.0,415.4 L170.8,414.3 L169.6,413.2 L168.4,412.1 L167.3,410.8 L166.2,409.5 L165.2,408.2 L164.2,406.8 L163.2,405.4 L162.3,403.9 L161.4,402.3 L160.6,400.8 L159.9,399.2 L159.1,397.6 L158.5,396.0 L157.9,394.3 L157.4,392.7 L156.9,391.0 L156.5,389.3 L156.2,387.6 L155.9,386.0 L155.7,384.3 L155.6,382.7Z" fill="#f8f8f8" stroke="#1a1a1a" stroke-width="1.3" stroke-linejoin="round"/>
<path d="M165.7,359.5 L167.2,358.4 L168.9,357.5 L170.7,356.8 L172.6,356.3 L174.6,356.1 L176.6,356.1 L178.6,356.3 L180.7,356.7 L182.8,357.4 L185.0,358.3 L187.1,359.4 L189.1,360.7 L191.1,362.2 L193.1,363.9 L195.0,365.8 L196.8,367.8 L198.5,370.0 L200.1,372.3 L201.6,374.7 L202.9,377.3 L204.1,379.9 L205.1,382.5 L206.0,385.2 L206.7,387.9 L207.3,390.7 L207.6,393.3 L207.8,396.0 L207.8,398.6 L207.7,401.1 L207.3,403.6 L206.8,405.9 L206.1,408.1 L205.2,410.1 L204.2,412.0 L203.0,413.7 L201.7,415.2 L200.2,416.5 L198.6,417.7 L196.9,418.6 L195.1,419.3" fill="none" stroke="#1a1a1a" stroke-width="1.3" stroke-linecap="round" />
<path d="M167.5,358.3 L169.1,357.2 L170.7,356.2 L172.5,355.5 L174.4,355.1 L176.4,354.8 L178.4,354.8 L180.5,355.0 L182.5,355.5 L184.7,356.1 L186.8,357.0 L188.9,358.1 L190.9,359.5 L193.0,361.0 L194.9,362.7 L196.8,364.5 L198.6,366.6 L200.3,368.8 L201.9,371.1 L203.4,373.5 L204.7,376.0 L205.9,378.6 L207.0,381.3 L207.8,384.0 L208.6,386.7 L209.1,389.4 L209.5,392.1 L209.7,394.7 L209.7,397.3 L209.5,399.9 L209.1,402.3 L208.6,404.6 L207.9,406.8 L207.0,408.8 L206.0,410.7 L204.8,412.4 L203.5,414.0 L202.0,415.3 L200.5,416.4 L198.8,417.3 L197.0,418.0" fill="none" stroke="#1a1a1a" stroke-width="1.0" stroke-linecap="round" />
<path d="M169.0,357.2 L170.6,356.1 L172.3,355.2 L174.1,354.5 L176.0,354.0 L177.9,353.7 L179.9,353.7 L182.0,353.9 L184.1,354.4 L186.2,355.1 L188.3,355.9 L190.4,357.1 L192.5,358.4 L194.5,359.9 L196.5,361.6 L198.4,363.5 L200.2,365.5 L201.9,367.7 L203.5,370.0 L205.0,372.4 L206.3,374.9 L207.5,377.5 L208.5,380.2 L209.4,382.9 L210.1,385.6 L210.7,388.3 L211.0,391.0 L211.2,393.7 L211.2,396.3 L211.0,398.8 L210.7,401.2 L210.2,403.5 L209.5,405.7 L208.6,407.8 L207.6,409.7 L206.4,411.4 L205.1,412.9 L203.6,414.2 L202.0,415.3 L200.3,416.2 L198.5,416.9" fill="none" stroke="#1a1a1a" stroke-width="1.3" stroke-linecap="round" />
<path d="M170.6,356.1 L172.2,355.0 L173.9,354.1 L175.7,353.4 L177.5,352.9 L179.5,352.7 L181.5,352.6 L183.6,352.9 L185.7,353.3 L187.8,354.0 L189.9,354.9 L192.0,356.0 L194.1,357.3 L196.1,358.8 L198.1,360.5 L199.9,362.4 L201.8,364.4 L203.5,366.6 L205.1,368.9 L206.5,371.3 L207.9,373.8 L209.1,376.4 L210.1,379.1 L211.0,381.8 L211.7,384.5 L212.2,387.2 L212.6,389.9 L212.8,392.6 L212.8,395.2 L212.6,397.7 L212.3,400.1 L211.7,402.5 L211.0,404.6 L210.2,406.7 L209.1,408.6 L208.0,410.3 L206.6,411.8 L205.2,413.1 L203.6,414.2 L201.9,415.2 L200.1,415.8" fill="none" stroke="#1a1a1a" stroke-width="1.0" stroke-linecap="round" />
<path d="M172.2,355.0 L173.7,353.9 L175.4,353.0 L177.2,352.3 L179.1,351.8 L181.1,351.6 L183.1,351.6 L185.1,351.8 L187.2,352.2 L189.3,352.9 L191.5,353.8 L193.6,354.9 L195.6,356.2 L197.6,357.7 L199.6,359.4 L201.5,361.3 L203.3,363.3 L205.0,365.5 L206.6,367.8 L208.1,370.2 L209.4,372.8 L210.6,375.4 L211.6,378.0 L212.5,380.7 L213.2,383.4 L213.8,386.2 L214.1,388.8 L214.3,391.5 L214.3,394.1 L214.2,396.6 L213.8,399.1 L213.3,401.4 L212.6,403.6 L211.7,405.6 L210.7,407.5 L209.5,409.2 L208.2,410.7 L206.7,412.0 L205.1,413.2 L203.4,414.1 L201.6,414.8" fill="none" stroke="#1a1a1a" stroke-width="1.2" stroke-linecap="round" />
<ellipse cx="222.0" cy="394.5" rx="5.2" ry="8.2" transform="rotate(28 222.0 394.5)" fill="#f8f8f8" stroke="#1a1a1a" stroke-width="1.2" />
<path d="M219.6,400.5 L219.4,400.3 L219.1,400.1 L218.9,399.9 L218.8,399.7 L218.6,399.4 L218.5,399.1 L218.4,398.8 L218.3,398.5 L218.3,398.1 L218.3,397.7 L218.3,397.3 L218.3,396.9 L218.3,396.5 L218.4,396.0 L218.5,395.6 L218.7,395.1 L218.8,394.7 L219.0,394.2 L219.2,393.8 L219.4,393.4 L219.6,392.9 L219.9,392.5 L220.2,392.1 L220.5,391.7 L220.8,391.4 L221.1,391.1 L221.4,390.7 L221.7,390.5 L222.0,390.2 L222.4,390.0 L222.7,389.8 L223.0,389.6 L223.4,389.5 L223.7,389.4 L224.0,389.3 L224.3,389.3 L224.6,389.3 L224.9,389.3 L225.2,389.4 L225.4,389.5" fill="none" stroke="#1a1a1a" stroke-width="0.8" stroke-linecap="round" />
<ellipse cx="180.4" cy="389.8" rx="22.6" ry="33.6" transform="rotate(-24.6 180.4 389.8)" fill="#f8f8f8" stroke="#1a1a1a" stroke-width="1.3" />
<path d="M95.2,389.1 L95.9,388.4 L96.7,387.7 L97.5,387.1 L98.3,386.5 L99.2,385.9 L100.0,385.4 L100.9,384.9 L101.8,384.5 L102.7,384.1 L103.7,383.7 L104.6,383.4 L105.6,383.2 L106.6,383.0 L107.5,382.8 L108.5,382.7 L109.5,382.6 L110.5,382.6 L111.5,382.6 L112.5,382.6 L113.6,382.7 L114.6,382.9 L115.6,383.1 L116.6,383.3 L117.6,383.6 L118.6,383.9 L119.6,384.3 L120.6,384.7 L121.5,385.2 L122.5,385.7 L123.4,386.2 L124.4,386.8 L125.3,387.4 L126.2,388.1 L127.1,388.8 L127.9,389.5 L128.8,390.3 L129.6,391.1 L130.4,391.9 L131.1,392.8 L131.9,393.7 L132.6,394.6 L133.3,395.6 L134.0,396.6 L134.6,397.6 L135.2,398.6 L135.8,399.7 L136.3,400.8 L136.8,401.9 L137.3,403.0 L137.8,404.1 L138.2,405.3 L138.5,406.4 L138.9,407.6 L139.2,408.8 L139.4,410.0 L139.7,411.2 L139.9,412.4 L140.0,413.6 L140.1,414.8 L140.2,416.0 L140.2,417.2 L140.2,418.4 L140.2,419.6 L140.1,420.8 L140.0,422.0 L139.9,423.1 L139.7,424.3 L139.4,425.4 L139.2,426.6 L138.9,427.7 L138.5,428.8 L138.2,429.8 L137.7,430.9 L137.3,431.9 L136.8,432.9 L136.3,433.9 L135.8,434.8 L135.2,435.7 L134.6,436.6 L134.0,437.5 L133.3,438.3 L132.6,439.1 L131.9,439.8 L131.1,440.6 L130.3,441.2 L129.6,441.9 L128.7,442.5 L127.9,443.0 L127.0,443.6 L126.1,444.0" fill="none" stroke="#222" stroke-width="2.6" stroke-linecap="round" stroke-dasharray="1.2 0.8"/>
<path d="M93.1,393.7 L94.3,392.0 L95.7,390.4 L97.2,389.0 L98.8,387.8 L100.4,386.7 L102.2,385.7 L104.0,385.0 L105.9,384.4 L107.8,384.1 L109.8,383.9 L111.8,383.9 L113.8,384.1 L115.8,384.5 L117.8,385.0 L119.7,385.8 L121.6,386.7 L123.5,387.8 L125.3,389.0 L127.0,390.5 L128.7,392.0 L130.2,393.7 L131.7,395.6 L133.0,397.5 L134.2,399.6 L135.3,401.7 L136.3,403.9 L137.1,406.2 L137.8,408.6 L138.3,410.9 L138.7,413.3 L138.9,415.7 L138.9,418.1 L138.8,420.5 L138.6,422.8 L138.2,425.1 L137.6,427.4 L136.9,429.5 L136.0,431.5 L135.1,433.5 L133.9,435.3 L132.7,437.0 L131.3,438.6 L129.8,440.0 L128.2,441.2 L126.6,442.3 L124.8,443.3 L123.0,444.0 L121.1,444.6 L119.2,444.9 L117.2,445.1 L115.2,445.1 L113.2,444.9 L111.2,444.5 L109.2,444.0 L107.3,443.2 L105.4,442.3 L103.5,441.2 L101.7,440.0 L100.0,438.5 L98.3,437.0 L96.8,435.3 L95.3,433.4 L94.0,431.5 L92.8,429.4 L91.7,427.3 L90.7,425.1 L89.9,422.8 L89.2,420.4 L88.7,418.1 L88.3,415.7 L88.1,413.3 L88.1,410.9 L88.2,408.5 L88.4,406.2 L88.8,403.9 L89.4,401.6 L90.1,399.5 L91.0,397.5 L91.9,395.5 L93.1,393.7" fill="none" stroke="#1a1a1a" stroke-width="1.2" stroke-linecap="round" />
<path d="M94.6,395.0 L95.8,393.4 L97.0,391.9 L98.4,390.6 L99.8,389.5 L101.4,388.4 L103.0,387.6 L104.7,386.9 L106.4,386.4 L108.2,386.0 L110.0,385.9 L111.8,385.9 L113.6,386.1 L115.5,386.4 L117.3,387.0 L119.1,387.7 L120.9,388.5 L122.6,389.6 L124.3,390.8 L125.9,392.1 L127.4,393.6 L128.8,395.2 L130.2,396.9 L131.4,398.7 L132.6,400.6 L133.6,402.6 L134.5,404.7 L135.2,406.8 L135.8,409.0 L136.3,411.3 L136.7,413.5 L136.9,415.8 L136.9,418.0 L136.9,420.2 L136.6,422.4 L136.3,424.5 L135.8,426.6 L135.1,428.6 L134.3,430.5 L133.4,432.3 L132.4,434.0 L131.2,435.6 L130.0,437.1 L128.6,438.4 L127.2,439.5 L125.6,440.6 L124.0,441.4 L122.3,442.1 L120.6,442.6 L118.8,443.0 L117.0,443.1 L115.2,443.1 L113.4,442.9 L111.5,442.6 L109.7,442.0 L107.9,441.3 L106.1,440.5 L104.4,439.4 L102.7,438.2 L101.1,436.9 L99.6,435.4 L98.2,433.8 L96.8,432.1 L95.6,430.3 L94.4,428.4 L93.4,426.4 L92.5,424.3 L91.8,422.2 L91.2,420.0 L90.7,417.7 L90.3,415.5 L90.1,413.2 L90.1,411.0 L90.1,408.8 L90.4,406.6 L90.7,404.5 L91.2,402.4 L91.9,400.4 L92.7,398.5 L93.6,396.7 L94.6,395.0" fill="none" stroke="#1a1a1a" stroke-width="1.2" stroke-linecap="round" />
<path d="M107.9,392.9 L108.6,392.6 L109.4,392.4 L110.2,392.2 L111.1,392.0 L111.9,391.9 L112.7,391.9 L113.6,391.9 L114.4,392.0 L115.3,392.1 L116.1,392.3 L117.0,392.5 L117.8,392.7 L118.7,393.0 L119.5,393.4 L120.3,393.8 L121.2,394.3 L122.0,394.8 L122.8,395.3 L123.6,395.9 L124.3,396.5 L125.1,397.2 L125.8,397.9 L126.6,398.6 L127.3,399.4 L127.9,400.2 L128.6,401.1 L129.2,402.0 L129.8,402.9 L130.4,403.8 L130.9,404.8 L131.4,405.8 L131.9,406.8 L132.4,407.8 L132.8,408.9 L133.2,410.0 L133.5,411.0 L133.8,412.1 L134.1,413.2 L134.4,414.3 L134.6,415.5 L134.7,416.6 L134.9,417.7 L135.0,418.8 L135.0,419.9 L135.0,421.1 L135.0,422.2 L135.0,423.3 L134.9,424.3 L134.7,425.4 L134.6,426.5 L134.4,427.5 L134.1,428.5 L133.8,429.5 L133.5,430.4 L133.2,431.4 L132.8,432.3 L132.4,433.1 L131.9,434.0 L131.4,434.8 L130.9,435.6 L130.4,436.3 L129.8,437.0 L129.2,437.7 L128.6,438.3 L127.9,438.9 L127.2,439.4 L126.5,439.9 L125.8,440.3 L125.1,440.7 L124.3,441.0 L123.5,441.3 L122.8,441.6 L122.0,441.8 L121.1,441.9 L120.3,442.0 L119.5,442.1 L118.6,442.1 L117.8,442.0 L116.9,441.9 L116.1,441.8" fill="none" stroke="#1a1a1a" stroke-width="1.1" stroke-linecap="round" />
<path d="M108.6,394.8 L109.2,394.5 L110.0,394.3 L110.7,394.1 L111.4,394.0 L112.1,393.9 L112.9,393.9 L113.6,393.9 L114.4,394.0 L115.2,394.1 L115.9,394.3 L116.7,394.5 L117.4,394.7 L118.2,395.0 L119.0,395.3 L119.7,395.7 L120.4,396.1 L121.2,396.6 L121.9,397.1 L122.6,397.6 L123.3,398.2 L124.0,398.8 L124.7,399.5 L125.3,400.2 L125.9,400.9 L126.5,401.7 L127.1,402.5 L127.7,403.3 L128.2,404.1 L128.8,405.0 L129.3,405.9 L129.7,406.8 L130.2,407.7 L130.6,408.7 L131.0,409.7 L131.3,410.6 L131.6,411.6 L131.9,412.7 L132.2,413.7 L132.4,414.7 L132.6,415.7 L132.8,416.8 L132.9,417.8 L133.0,418.8 L133.0,419.9 L133.1,420.9 L133.0,421.9 L133.0,422.9 L132.9,423.9 L132.8,424.9 L132.7,425.8 L132.5,426.8 L132.3,427.7 L132.0,428.6 L131.8,429.5 L131.5,430.3 L131.1,431.2 L130.7,432.0 L130.3,432.7 L129.9,433.5 L129.5,434.2 L129.0,434.9 L128.5,435.5 L127.9,436.1 L127.4,436.7 L126.8,437.2 L126.2,437.7 L125.6,438.1 L124.9,438.5 L124.3,438.9 L123.6,439.2 L122.9,439.4 L122.2,439.7 L121.5,439.8 L120.8,440.0 L120.0,440.1 L119.3,440.1 L118.5,440.1 L117.8,440.0 L117.0,439.9 L116.3,439.8" fill="none" stroke="#1a1a1a" stroke-width="1.1" stroke-linecap="round" />
<path d="M94.2,389.6 L95.8,389.6 L97.4,389.9 L99.0,390.3 L100.7,390.8 L102.3,391.5 L103.9,392.4 L105.4,393.4 L107.0,394.6 L108.5,395.9 L109.9,397.3 L111.3,398.9 L112.6,400.6 L113.8,402.4 L115.0,404.2 L116.0,406.2 L117.0,408.2 L117.9,410.3 L118.6,412.5 L119.3,414.7 L119.9,416.9 L120.3,419.2 L120.6,421.5 L120.8,423.7 L120.9,425.9 L120.9,428.2 L120.7,430.3 L120.5,432.4 L120.1,434.5 L119.6,436.5 L119.0,438.4 L118.2,440.2 L117.4,441.8 L116.5,443.4 L115.5,444.9 L114.3,446.2 L113.1,447.4 L111.9,448.4 L110.5,449.3 L109.1,450.1 L107.7,450.7 L106.1,451.1 L104.6,451.3 L103.0,451.4 L101.4,451.4 L99.8,451.1 L98.1,450.7 L96.5,450.2 L94.9,449.4 L93.3,448.6 L91.7,447.6 L90.2,446.4 L88.7,445.1 L87.3,443.6 L85.9,442.1 L84.6,440.4 L83.4,438.6 L82.2,436.7 L81.2,434.8 L80.2,432.7 L79.3,430.6 L78.5,428.5 L77.9,426.3 L77.3,424.0 L76.9,421.8 L76.6,419.5 L76.4,417.3 L76.3,415.0 L76.3,412.8 L76.5,410.6 L76.8,408.5 L77.1,406.5 L77.6,404.5 L78.3,402.6 L79.0,400.8 L79.8,399.1 L80.7,397.6 L81.8,396.1 L82.9,394.8 L84.1,393.6 L85.3,392.6" fill="none" stroke="#1a1a1a" stroke-width="1.2" stroke-linecap="round" />
<path d="M94.4,391.6 L95.8,391.6 L97.3,391.9 L98.8,392.2 L100.3,392.8 L101.7,393.5 L103.2,394.3 L104.6,395.3 L106.0,396.4 L107.4,397.6 L108.7,398.9 L110.0,400.4 L111.2,402.0 L112.3,403.7 L113.4,405.4 L114.3,407.3 L115.2,409.2 L116.0,411.1 L116.8,413.2 L117.4,415.2 L117.9,417.3 L118.3,419.4 L118.6,421.6 L118.8,423.7 L118.9,425.8 L118.9,427.8 L118.8,429.8 L118.6,431.8 L118.2,433.7 L117.8,435.6 L117.2,437.3 L116.6,439.0 L115.8,440.6 L115.0,442.1 L114.1,443.4 L113.1,444.6 L112.0,445.7 L110.9,446.7 L109.7,447.5 L108.4,448.2 L107.0,448.7 L105.7,449.1 L104.3,449.4 L102.8,449.4 L101.4,449.4 L99.9,449.1 L98.4,448.7 L96.9,448.2 L95.4,447.5 L94.0,446.7 L92.6,445.7 L91.2,444.6 L89.8,443.4 L88.5,442.0 L87.2,440.6 L86.0,439.0 L84.9,437.3 L83.8,435.6 L82.8,433.7 L82.0,431.8 L81.1,429.8 L80.4,427.8 L79.8,425.7 L79.3,423.6 L78.9,421.5 L78.6,419.4 L78.4,417.3 L78.3,415.2 L78.3,413.2 L78.4,411.1 L78.7,409.2 L79.0,407.2 L79.4,405.4 L80.0,403.6 L80.6,402.0 L81.4,400.4 L82.2,398.9 L83.1,397.6 L84.1,396.3 L85.2,395.2 L86.3,394.3" fill="none" stroke="#1a1a1a" stroke-width="1.2" stroke-linecap="round" />
<path d="M98.2,453.8 L96.6,454.4 L94.9,454.8 L93.3,455.0 L91.6,455.1 L89.9,455.0 L88.1,454.8 L86.4,454.4 L84.7,453.8 L83.0,453.1 L81.4,452.3 L79.8,451.3 L78.2,450.1 L76.7,448.9 L75.2,447.5 L73.8,446.0 L72.5,444.4 L71.3,442.6 L70.2,440.8 L69.2,439.0 L68.2,437.0 L67.4,435.0 L66.7,432.9 L66.1,430.8 L65.6,428.6 L65.3,426.5 L65.1,424.3 L65.0,422.2 L65.0,420.0 L65.2,417.9 L65.4,415.9 L65.8,413.8 L66.3,411.9 L67.0,410.0 L67.7,408.2 L68.6,406.5 L69.6,404.9 L70.7,403.4 L71.8,402.0 L73.1,400.8 L74.4,399.7 L75.8,398.7 L77.3,397.8 L78.9,397.1 L80.4,396.6 L82.1,396.2 L83.8,396.0 L85.4,395.9 L87.2,396.0 L88.9,396.2 L90.6,396.6 L92.3,397.2 L94.0,397.9 L95.6,398.8 L97.3,399.8 L98.8,400.9 L100.4,402.2 L101.8,403.5 L103.2,405.0 L104.5,406.7 L105.7,408.4 L106.8,410.2 L107.9,412.1 L108.8,414.0 L109.6,416.1 L110.3,418.1 L110.9,420.2 L111.4,422.4 L111.7,424.5 L111.9,426.7 L112.0,428.9 L112.0,431.0 L111.8,433.1 L111.6,435.2 L111.2,437.2 L110.6,439.1 L110.0,441.0 L109.2,442.8 L108.4,444.5 L107.4,446.1 L106.3,447.6" fill="none" stroke="#1a1a1a" stroke-width="1.2" stroke-linecap="round" />
<path d="M97.5,452.0 L96.0,452.5 L94.5,452.8 L93.0,453.0 L91.5,453.1 L89.9,453.0 L88.3,452.8 L86.8,452.4 L85.2,451.9 L83.6,451.2 L82.1,450.4 L80.6,449.5 L79.2,448.4 L77.8,447.2 L76.5,445.9 L75.2,444.5 L74.0,443.0 L72.9,441.4 L71.8,439.7 L70.9,437.9 L70.0,436.1 L69.3,434.2 L68.6,432.3 L68.1,430.3 L67.6,428.3 L67.3,426.3 L67.1,424.3 L67.0,422.3 L67.0,420.3 L67.1,418.3 L67.4,416.4 L67.7,414.5 L68.2,412.7 L68.8,411.0 L69.4,409.3 L70.2,407.7 L71.1,406.2 L72.1,404.8 L73.1,403.5 L74.3,402.4 L75.5,401.3 L76.8,400.4 L78.1,399.7 L79.5,399.0 L81.0,398.5 L82.5,398.2 L84.0,398.0 L85.6,397.9 L87.1,398.0 L88.7,398.2 L90.3,398.6 L91.8,399.1 L93.4,399.8 L94.9,400.6 L96.4,401.6 L97.8,402.6 L99.2,403.8 L100.6,405.1 L101.8,406.5 L103.0,408.0 L104.1,409.6 L105.2,411.3 L106.1,413.1 L107.0,414.9 L107.8,416.8 L108.4,418.7 L109.0,420.7 L109.4,422.7 L109.7,424.7 L109.9,426.7 L110.0,428.7 L110.0,430.7 L109.9,432.7 L109.6,434.6 L109.3,436.5 L108.8,438.3 L108.2,440.1 L107.6,441.7 L106.8,443.3 L105.9,444.8 L104.9,446.2" fill="none" stroke="#1a1a1a" stroke-width="1.2" stroke-linecap="round" />
<path d="M73.0,468.3 L71.1,468.8 L69.2,469.0 L67.3,469.1 L65.4,469.1 L63.4,468.8 L61.5,468.4 L59.6,467.9 L57.7,467.1 L55.8,466.2 L54.0,465.2 L52.2,464.0 L50.5,462.6 L48.8,461.1 L47.3,459.5 L45.8,457.8 L44.4,456.0 L43.1,454.0 L42.0,452.0 L41.0,449.9 L40.1,447.8 L39.3,445.5 L38.6,443.3 L38.1,441.0 L37.8,438.7 L37.6,436.4 L37.5,434.2 L37.6,431.9 L37.8,429.7 L38.2,427.5 L38.7,425.4 L39.3,423.4 L40.1,421.4 L41.0,419.6 L42.1,417.8 L43.2,416.2 L44.5,414.7 L45.9,413.3 L47.4,412.1 L48.9,411.0 L50.6,410.0 L52.3,409.3 L54.1,408.7 L55.9,408.2 L57.8,408.0 L59.7,407.9 L61.6,407.9 L63.6,408.2 L65.5,408.6 L67.5,409.2 L69.4,409.9 L71.2,410.8 L73.1,411.9 L74.9,413.1 L76.6,414.4 L78.2,415.9 L79.8,417.5 L81.2,419.2 L82.6,421.1 L83.9,423.0 L85.0,425.0 L86.1,427.1 L87.0,429.3 L87.7,431.5 L88.4,433.7 L88.9,436.0 L89.2,438.3 L89.4,440.6 L89.5,442.9 L89.4,445.1 L89.2,447.4 L88.8,449.5 L88.3,451.6 L87.7,453.7 L86.9,455.6 L86.0,457.5 L84.9,459.2 L83.8,460.8 L82.5,462.4 L81.1,463.7 L79.6,465.0" fill="none" stroke="#1a1a1a" stroke-width="1.35" stroke-linecap="round" />
<path d="M72.3,466.2 L70.6,466.6 L68.9,466.9 L67.2,467.0 L65.4,466.9 L63.6,466.6 L61.8,466.3 L60.1,465.7 L58.3,465.0 L56.6,464.2 L54.9,463.2 L53.3,462.1 L51.7,460.8 L50.2,459.4 L48.8,457.9 L47.4,456.3 L46.1,454.6 L45.0,452.8 L43.9,450.9 L42.9,449.0 L42.1,447.0 L41.4,444.9 L40.8,442.8 L40.3,440.7 L40.0,438.6 L39.8,436.4 L39.7,434.3 L39.8,432.2 L40.0,430.2 L40.3,428.2 L40.7,426.2 L41.3,424.3 L42.0,422.5 L42.8,420.8 L43.8,419.2 L44.8,417.7 L46.0,416.3 L47.2,415.0 L48.6,413.9 L50.0,412.9 L51.5,412.0 L53.1,411.3 L54.7,410.8 L56.4,410.4 L58.1,410.1 L59.9,410.0 L61.6,410.1 L63.4,410.4 L65.2,410.7 L67.0,411.3 L68.7,412.0 L70.4,412.8 L72.1,413.8 L73.7,415.0 L75.3,416.2 L76.8,417.6 L78.3,419.1 L79.6,420.7 L80.9,422.4 L82.1,424.2 L83.1,426.1 L84.1,428.1 L84.9,430.1 L85.6,432.1 L86.2,434.2 L86.7,436.3 L87.0,438.5 L87.2,440.6 L87.3,442.7 L87.2,444.8 L87.0,446.9 L86.7,448.9 L86.3,450.8 L85.7,452.7 L85.0,454.5 L84.1,456.2 L83.2,457.8 L82.1,459.3 L81.0,460.7 L79.7,462.0 L78.4,463.1" fill="none" stroke="#1a1a1a" stroke-width="1.35" stroke-linecap="round" />
<path d="M239,414.8 L272.7,451.8 L262,460 L230.8,423.8 Q228,417 233,413.5 Q236,412.5 239,414.8 Z" fill="#f8f8f8" stroke="#1a1a1a" stroke-width="1.2" stroke-linejoin="round" stroke-linecap="round" />
<ellipse cx="268.1" cy="455.9" rx="5.6" ry="6.6" transform="rotate(40 268.1 455.9)" fill="#f8f8f8" stroke="#1a1a1a" stroke-width="1.2" />
<ellipse cx="268.3" cy="456.2" rx="3.3" ry="3.9" transform="rotate(40 268.3 456.2)" fill="#f8f8f8" stroke="#1a1a1a" stroke-width="1.0" />
<path d="M147.6,311 C142,310 139.6,306.5 140.7,303.2 C142.2,299.2 147.5,297.8 152,298.6 C157.5,299.6 160.6,303.5 158.8,307.6 C157.3,310.8 154,312.6 150,312.2 L149.8,309.2 C152.8,309.5 155.2,308.5 155.6,306.2 C156.2,303.6 153,301.4 149.5,301.3 C146,301.2 143.5,302.8 143.8,305.2 C144,306.8 145.5,307.9 147.4,308.3 Z" fill="#f8f8f8" stroke="#1a1a1a" stroke-width="1.3" stroke-linejoin="round" stroke-linecap="round" />
<ellipse cx="278.4" cy="469.8" rx="7.0" ry="6.4" transform="rotate(0 278.4 469.8)" fill="#f8f8f8" stroke="#1a1a1a" stroke-width="1.3" />
<ellipse cx="279.3" cy="469.4" rx="4.2" ry="4.4" transform="rotate(0 279.3 469.4)" fill="#f8f8f8" stroke="#1a1a1a" stroke-width="1.2" />
<path d="M211,274.6 C213,272 218,271.6 221.5,274.5 C224.5,277 226,281.5 224.6,285.2 C224,287 223,287.6 222.5,287.2 C219,286 215,283 211.5,279.3 C210.3,277.9 210.2,276 211,274.6 Z" fill="#f8f8f8" stroke="#1a1a1a" stroke-width="1.4" stroke-linejoin="round" stroke-linecap="round" />
<path d="M212,275.2 C216,277 220,279 222.5,281.3 L222.8,286.5" fill="none" stroke="#1a1a1a" stroke-width="1.2" stroke-linejoin="round" stroke-linecap="round" />
<text class="n" x="231.3" y="65.5" font-size="18.5" textLength="12.9" lengthAdjust="spacingAndGlyphs">10</text>
<text class="n" x="276.4" y="78.5" font-size="18.5" >8</text>
<text class="n" x="392.2" y="79.6" font-size="18.5" textLength="5.6" lengthAdjust="spacingAndGlyphs">1</text>
<text class="n" x="328.9" y="250.6" font-size="18.5" >9</text>
<text class="n" x="375.7" y="320.5" font-size="18.5" textLength="12.8" lengthAdjust="spacingAndGlyphs">12</text>
<text class="n" x="426.2" y="331.7" font-size="16.5" >7</text>
<text class="n" x="458.2" y="323" font-size="18.5" textLength="11.6" lengthAdjust="spacingAndGlyphs">11</text>
<text class="s" x="207.5" y="245.3" font-size="16.5" >5</text>
<text class="s" x="136.5" y="273.3" font-size="16.5" >6</text>
<text class="s" x="191.3" y="315.4" font-size="16.5" >3</text>
<text class="s" x="261" y="416.6" font-size="15.5" >4</text>
<text class="s" x="292.8" y="455.2" font-size="14.5" >6</text>
<text class="s" x="118.6" y="490.9" font-size="15.5" >2</text>
<path d="M235.3,70 L235.3,90 M283.3,84 L283.3,101 M395.5,82 L395.5,99 M343.6,242.3 L369,242.3 M383,303.4 L399.6,286 M430.7,283.5 L430.7,316.5 M460.5,285 L460.5,306 M212,248 L215.6,270 M141,276 L147,299 M198.5,320 L200,339 M263.7,423 L256.3,431.5 M290,456 L283.4,462.5 M121.7,462.7 L123.3,475.6" fill="none" stroke="#222" stroke-width="1.1" stroke-linejoin="round" stroke-linecap="round" />
</svg>
</body></html>
